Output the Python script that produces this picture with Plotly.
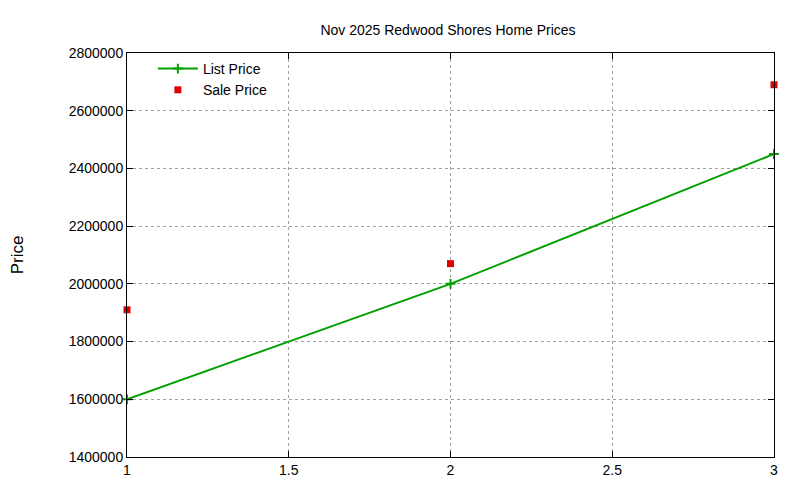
import plotly.graph_objects as go

# Data
x_vals = [1, 2, 3]
list_price = [1600000, 2000000, 2450000]
sale_price = [1910000, 2070000, 2690000]

fig = go.Figure()

fig.add_trace(go.Scatter(
    x=x_vals, y=list_price, name='List Price', mode='lines+markers',
    line=dict(color='#00a000', width=2),
    marker=dict(symbol='cross-thin', size=7, line=dict(color='#00a000', width=2)),
    cliponaxis=False,
))
fig.add_trace(go.Scatter(
    x=x_vals, y=sale_price, name='Sale Price', mode='markers',
    marker=dict(symbol='square', size=7, color='#e00000'),
    cliponaxis=False,
))

axis_style = dict(
    showline=True, linecolor='black', linewidth=1, mirror='ticks',
    ticks='inside', ticklen=6, tickcolor='black',
    showgrid=True, gridcolor='#a0a0a0', griddash='dot', gridwidth=1,
    zeroline=False, tickfont=dict(size=14, color='black'), automargin=False,
)

fig.update_layout(
    width=800, height=480,
    paper_bgcolor='white', plot_bgcolor='white',
    font=dict(family='Liberation Sans, Arial, sans-serif', size=14, color='black'),
    title=dict(text='Nov 2025 Redwood Shores Home Prices', x=0.55, y=0.955,
               xanchor='center', yanchor='middle', font=dict(size=14),
               automargin=False),
    margin=dict(l=119, r=34, t=45, b=31),
    xaxis=dict(range=[1, 3], dtick=0.5, **axis_style),
    yaxis=dict(range=[1400000, 2800000], dtick=200000, tickformat='d',
               title=dict(text='Price', standoff=40), **axis_style),
    legend=dict(x=0.04, y=1.0, xanchor='left', yanchor='top',
                bgcolor='rgba(0,0,0,0)', font=dict(size=14),
                tracegroupgap=0, itemwidth=40),
    showlegend=True,
)

fig.write_html("out.html")
